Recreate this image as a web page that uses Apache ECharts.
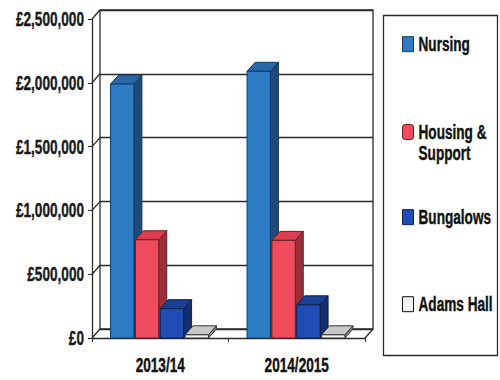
<!DOCTYPE html>
<html>
<head>
<meta charset="utf-8">
<script src="https://cdn.jsdelivr.net/npm/echarts@6/dist/echarts.min.js"></script>
<style>
  html, body { margin: 0; padding: 0; background: #fff; }
  #chart { width: 500px; height: 380px; }
</style>
</head>
<body>
<div id="chart"></div>
<script>
// Spend by service, per financial year
const years = ['2013/14', '2014/2015'];
const nursing = [1990000, 2090000];
const housingSupport = [770000, 765000];
const bungalows = [230000, 260000];
const adamsHall = [25000, 25000];
const yTicks = [0, 500000, 1000000, 1500000, 2000000, 2500000];

const FONT = '"Liberation Sans", Arial, sans-serif';
const TEXT_SQUEEZE = 0.68;   // horizontal condensing applied to every label
const INK = '#111';
const LINE = '#2b2b2b';
// Offset from the front plane to the back wall (pseudo-3D depth)
const DX = 8, DY = 9;

const services = [
  { name: 'Nursing', data: nursing, front: '#2d7cc3', top: '#2868a8', side: '#1d4a78', edge: '#163a60' },
  { name: 'Housing & Support', data: housingSupport, front: '#f04b5c', top: '#d93d4e', side: '#9e2f3a', edge: '#6a1d25' },
  { name: 'Bungalows', data: bungalows, front: '#1f4db5', top: '#1a4096', side: '#122e6e', edge: '#0c2050' },
  { name: 'Adams Hall', data: adamsHall, front: '#f4f4f4', top: '#c9c9c9', side: '#8c8c8c', edge: '#333333' }
];

function pounds(v) {
  return '£' + String(v).replace(/\B(?=(\d{3})+(?!\d))/g, ',');
}

// Heavy label style shared by axes and legend
const heavyText = {
  fontFamily: FONT, fontWeight: 'bold', fontSize: 20, color: INK,
  textBorderColor: INK, textBorderWidth: 0.4
};

// Draws one box: front face, top face and right side face
function boxRenderer(svc, idx) {
  return function (params, api) {
    const cat = api.value(0);
    const val = api.value(1);
    const base = api.coord([cat, 0]);
    const tip = api.coord([cat, val]);
    const band = api.size([1, 0])[0];
    const pitch = band * 0.182;
    const w = pitch - 1.5;
    const x0 = base[0] - 2 * pitch + idx * pitch;
    const x1 = x0 + w;
    const yb = base[1];
    const yt = tip[1];
    const edge = { stroke: svc.edge, lineWidth: 1 };
    return {
      type: 'group',
      children: [
        { type: 'polygon', shape: { points: [[x1, yt], [x1 + DX, yt - DY], [x1 + DX, yb - DY], [x1, yb]] },
          style: Object.assign({ fill: svc.side }, edge) },
        { type: 'polygon', shape: { points: [[x0, yt], [x1, yt], [x1 + DX, yt - DY], [x0 + DX, yt - DY]] },
          style: Object.assign({ fill: svc.top }, edge) },
        { type: 'rect', shape: { x: x0, y: yt, width: w, height: yb - yt },
          style: Object.assign({ fill: svc.front }, edge) }
      ]
    };
  };
}

// Connectors between the front axis and the back wall, plus the right floor edge
function wallRenderer(params, api) {
  const cs = params.coordSys;
  const y = api.coord([0, api.value(1)])[1];
  const children = [
    { type: 'line', shape: { x1: cs.x, y1: y, x2: cs.x + DX, y2: y - DY },
      style: { stroke: LINE, lineWidth: 1.3 } }
  ];
  if (api.value(1) === 0) {
    const xr = cs.x + cs.width;
    children.push({ type: 'line', shape: { x1: xr, y1: y, x2: xr + DX, y2: y - DY },
      style: { stroke: LINE, lineWidth: 1.3 } });
  }
  return { type: 'group', children: children };
}

const barSeries = services.map(function (svc, i) {
  return {
    type: 'custom',
    name: svc.name,
    xAxisIndex: 1,
    yAxisIndex: 1,
    renderItem: boxRenderer(svc, i),
    itemStyle: { color: svc.front, borderColor: svc.edge, borderWidth: 1 },
    encode: { x: 0, y: 1 },
    data: years.map(function (_, k) { return [k, svc.data[k]]; }),
    z: 3
  };
});

const legendCentres = [45, 132, 218, 305];
const legends = services.map(function (svc, i) {
  const isHousing = svc.name === 'Housing & Support';
  return {
    data: [{ name: svc.name, icon: isHousing ? 'roundRect' : 'rect' }],
    left: 402,
    top: isHousing ? legendCentres[i] - 31.5 : legendCentres[i] - 11,
    padding: 0,
    itemWidth: 11,
    itemHeight: 15,
    selectedMode: false,
    // blank first line keeps the marker level with "Housing &"
    formatter: isHousing ? function () { return ' \nHousing &\nSupport'; } : undefined,
    textStyle: Object.assign({}, heavyText, isHousing ? { lineHeight: 21 } : {}),
    itemStyle: { borderColor: svc.edge === '#333333' ? '#111' : svc.edge, borderWidth: 1 }
  };
});

const chart = echarts.init(document.getElementById('chart'), null, { renderer: 'svg' });

// No narrow face is installed, so squeeze the bold labels horizontally
function condenseLabels() {
  document.querySelectorAll('#chart svg text').forEach(function (el) {
    if (el.hasAttribute('textLength') || !el.textContent.trim()) return;
    const len = el.getComputedTextLength();
    el.setAttribute('textLength', (len * TEXT_SQUEEZE).toFixed(2));
    el.setAttribute('lengthAdjust', 'spacingAndGlyphs');
  });
}
chart.on('finished', condenseLabels);

chart.setOption({
  animation: false,
  backgroundColor: '#fff',
  grid: [
    // back wall
    { left: 100, right: 127, top: 10, bottom: 51, outerBoundsMode: 'none', containLabel: false,
      show: true, borderColor: LINE, borderWidth: 1.3, backgroundColor: 'transparent' },
    // front plane
    { left: 92, right: 135, top: 19, bottom: 42, outerBoundsMode: 'none', containLabel: false }
  ],
  xAxis: [
    { gridIndex: 0, type: 'category', data: years, show: false },
    {
      gridIndex: 1, type: 'category', data: years,
      axisLine: { show: true, lineStyle: { color: LINE, width: 1.3 } },
      axisTick: { show: true, length: 4, lineStyle: { color: LINE } },
      axisLabel: Object.assign({ margin: 17 }, heavyText),
      splitLine: { show: false }
    }
  ],
  yAxis: [
    {
      gridIndex: 0, type: 'value', min: 0, max: 2500000, interval: 500000,
      axisLine: { show: false }, axisTick: { show: false }, axisLabel: { show: false },
      splitLine: { show: true, lineStyle: { color: LINE, width: 1.3 } }
    },
    {
      gridIndex: 1, type: 'value', min: 0, max: 2500000, interval: 500000,
      axisLine: { show: true, lineStyle: { color: LINE, width: 1.3 } },
      axisTick: { show: true, length: 4, lineStyle: { color: LINE } },
      axisLabel: Object.assign({ formatter: pounds, margin: 8 }, heavyText, { color: '#1a1a1a', textBorderColor: '#1a1a1a' }),
      splitLine: { show: false }
    }
  ],
  legend: legends,
  graphic: [
    { type: 'rect', left: 381, top: 13, shape: { width: 114, height: 340 },
      style: { fill: 'none', stroke: LINE, lineWidth: 1.3 }, silent: true }
  ],
  series: barSeries.concat([
    {
      type: 'custom',
      name: 'walls',
      xAxisIndex: 1,
      yAxisIndex: 1,
      silent: true,
      renderItem: wallRenderer,
      encode: { x: 0, y: 1 },
      data: yTicks.map(function (v) { return [0, v]; }),
      z: 1
    }
  ])
});
requestAnimationFrame(condenseLabels);
</script>
</body>
</html>
